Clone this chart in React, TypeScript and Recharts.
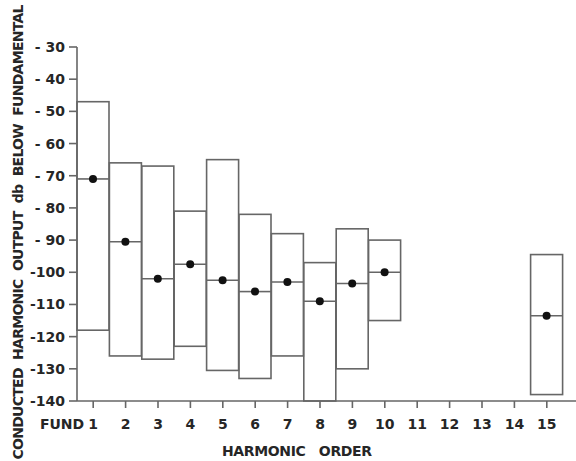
import { ComposedChart, Bar, XAxis, YAxis } from "recharts";

// harmonic order categories, 11-14 have no measurements
const orders = ["1", "2", "3", "4", "5", "6", "7", "8", "9", "10", "11", "12", "13", "14", "15"];
// box tops (highest level), db below fundamental
const highs = [-47, -66, -67, -81, -65, -82, -88, -97, -86.5, -90, null, null, null, null, -94.5];
// median levels (the dots)
const medians = [-71, -90.5, -102, -97.5, -102.5, -106, -103, -109, -103.5, -100, null, null, null, null, -113.5];
// box bottoms (lowest level)
const lows = [-118, -126, -127, -123, -130.5, -133, -126, -140, -130, -115, null, null, null, null, -138];
const yTicks = [-30, -40, -50, -60, -70, -80, -90, -100, -110, -120, -130, -140];

const data = orders.map((order, i) => ({
  order,
  high: highs[i],
  median: medians[i],
  low: lows[i],
  range: highs[i] == null ? null : [lows[i], highs[i]],
}));

const INK = "#262626";
const LINE = "#666";
const FONT = "DejaVu Sans";

const RangeBox = (props: any) => {
  const { x, y, width, height, payload } = props;
  if (payload.high == null || !width) return null;
  const top = Math.min(y, y + height);
  const h = Math.abs(height);
  const my = top + (h * (payload.high - payload.median)) / (payload.high - payload.low);
  return (
    <g>
      <rect x={x} y={top} width={width} height={h} fill="none" stroke={LINE} strokeWidth={1.6} />
      <line x1={x} x2={x + width} y1={my} y2={my} stroke={LINE} strokeWidth={1.6} />
      <circle cx={x + width / 2} cy={my} r={4} fill="#111" />
    </g>
  );
};

const XTick = ({ x, y, payload }: any) => {
  const style = { fontFamily: FONT, fontWeight: 700, fontSize: 14, fill: INK };
  if (payload.value === "1") {
    return (
      <g>
        <text x={x - 9} y={y + 19} textAnchor="end" style={style}>FUND</text>
        <text x={x} y={y + 19} textAnchor="middle" style={style}>1</text>
      </g>
    );
  }
  return (
    <text x={x} y={y + 19} textAnchor="middle" style={style}>
      {payload.value}
    </text>
  );
};

const fmtY = (v: number) => (v > -100 ? `- ${Math.abs(v)}` : `${v}`);

const titleStyle = { fontFamily: FONT, fontWeight: 700, fontSize: 14, fill: INK, whiteSpace: "pre" as const };

export default function App() {
  return (
    <div style={{ position: "absolute", left: 0, top: 0, width: 576, height: 461, background: "#fff" }}>
      <ComposedChart
        width={576}
        height={461}
        data={data}
        margin={{ top: 47, right: 0, bottom: 0, left: 0 }}
        barCategoryGap={0}
        barGap={0}
      >
        <XAxis
          dataKey="order"
          interval={0}
          height={60}
          padding={{ left: 0, right: 13 }}
          tickSize={7}
          axisLine={{ stroke: LINE, strokeWidth: 1.6 }}
          tickLine={{ stroke: LINE, strokeWidth: 1.6 }}
          tick={<XTick />}
          label={{
            content: () => (
              <text
                x={297}
                y={456}
                textAnchor="middle"
                textLength={150}
                lengthAdjust="spacing"
                style={titleStyle}
              >
                {"HARMONIC   ORDER"}
              </text>
            ),
          }}
        />
        <YAxis
          type="number"
          domain={[-140, -30]}
          ticks={yTicks}
          interval={0}
          width={77}
          tickSize={8}
          tickMargin={4}
          tickFormatter={fmtY}
          axisLine={{ stroke: LINE, strokeWidth: 1.6 }}
          tickLine={{ stroke: LINE, strokeWidth: 1.6 }}
          tick={{ fontFamily: FONT, fontWeight: 700, fontSize: 14, fill: INK }}
          label={{
            content: () => (
              <text
                x={23}
                y={232}
                transform="rotate(-90, 23, 232)"
                textAnchor="middle"
                textLength={455}
                lengthAdjust="spacing"
                style={titleStyle}
              >
                {"CONDUCTED  HARMONIC  OUTPUT  db  BELOW  FUNDAMENTAL"}
              </text>
            ),
          }}
        />
        <Bar dataKey="range" shape={<RangeBox />} isAnimationActive={false} />
      </ComposedChart>
    </div>
  );
}
